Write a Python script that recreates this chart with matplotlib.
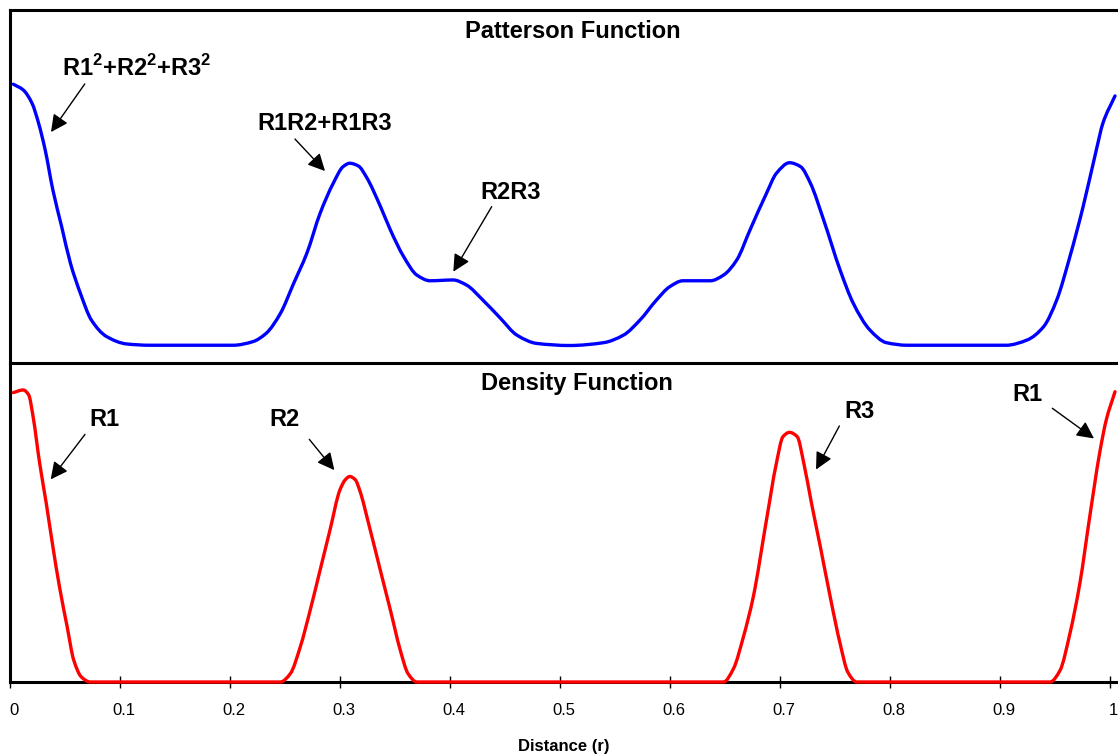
import matplotlib
matplotlib.use("Agg")
import matplotlib.pyplot as plt
import matplotlib.transforms as mtransforms
from matplotlib.path import Path
from matplotlib.patches import PathPatch
import numpy as np

plt.rcParams['font.family'] = ['Liberation Sans', 'DejaVu Sans']
plt.rcParams['mathtext.fontset'] = 'custom'
plt.rcParams['mathtext.rm'] = 'Liberation Sans'
plt.rcParams['mathtext.bf'] = 'Liberation Sans:bold'

# Patterson function (top panel)
patterson_x = [0.003, 0.012, 0.020, 0.026, 0.032, 0.039, 0.047, 0.055, 0.064, 0.074,
               0.088, 0.106, 0.127, 0.203, 0.221, 0.233, 0.246, 0.258, 0.270, 0.282,
               0.294, 0.303, 0.309, 0.317, 0.324, 0.337, 0.346, 0.358, 0.370, 0.382,
               0.403, 0.415, 0.430, 0.446, 0.461, 0.479, 0.509, 0.540, 0.558, 0.573,
               0.588, 0.600, 0.612, 0.637, 0.649, 0.661, 0.673, 0.688, 0.697, 0.709,
               0.719, 0.728, 0.740, 0.755, 0.767, 0.782, 0.797, 0.816, 0.906, 0.925,
               0.940, 0.952, 0.964, 0.976, 0.988, 0.994, 1.005]
patterson_y = [1.005, 0.983, 0.932, 0.855, 0.752, 0.598, 0.457, 0.316, 0.201, 0.098,
               0.034, 0.006, 0.001, 0.001, 0.015, 0.047, 0.124, 0.239, 0.355, 0.508,
               0.624, 0.688, 0.701, 0.690, 0.649, 0.534, 0.444, 0.342, 0.271, 0.249,
               0.252, 0.233, 0.175, 0.105, 0.040, 0.008, 0.000, 0.011, 0.040, 0.098,
               0.175, 0.226, 0.249, 0.249, 0.271, 0.329, 0.444, 0.585, 0.662, 0.703,
               0.688, 0.624, 0.483, 0.290, 0.162, 0.060, 0.011, 0.001, 0.001, 0.021,
               0.072, 0.175, 0.342, 0.534, 0.752, 0.855, 0.960]

# Density function (bottom panel)
density_x = [0.003, 0.012, 0.017, 0.021, 0.027, 0.033, 0.039, 0.045, 0.052, 0.058,
             0.065, 0.073, 0.246, 0.255, 0.264, 0.273, 0.282, 0.291, 0.300, 0.305,
             0.309, 0.314, 0.318, 0.327, 0.337, 0.346, 0.355, 0.362, 0.370, 0.649,
             0.658, 0.667, 0.676, 0.688, 0.697, 0.703, 0.709, 0.716, 0.722, 0.729,
             0.737, 0.746, 0.755, 0.762, 0.770, 0.946, 0.955, 0.964, 0.973, 0.982,
             0.991, 0.997, 1.005]
density_y = [0.997, 1.006, 0.989, 0.914, 0.753, 0.615, 0.466, 0.328, 0.190, 0.075,
             0.017, 0.000, 0.000, 0.029, 0.121, 0.247, 0.385, 0.523, 0.661, 0.697,
             0.708, 0.697, 0.661, 0.533, 0.382, 0.247, 0.109, 0.029, 0.000, 0.000,
             0.046, 0.155, 0.293, 0.558, 0.753, 0.845, 0.860, 0.845, 0.753, 0.615,
             0.466, 0.293, 0.132, 0.034, 0.000, 0.000, 0.040, 0.167, 0.339, 0.569,
             0.788, 0.902, 1.000]

tick_values = [0, 0.1, 0.2, 0.3, 0.4, 0.5, 0.6, 0.7, 0.8, 0.9, 1.0]
tick_labels = ['0', '0.1', '0.2', '0.3', '0.4', '0.5', '0.6', '0.7', '0.8', '0.9', '1']


def smooth_path(xs, ys):
    """Smoothed (monotone cubic Bezier) path through the given points."""
    x = np.asarray(xs, float)
    y = np.asarray(ys, float)
    h = np.diff(x)
    d = np.diff(y) / h
    n = len(x)
    m = np.zeros(n)
    m[0], m[-1] = d[0], d[-1]
    for k in range(1, n - 1):
        if d[k - 1] * d[k] > 0:
            w1 = 2 * h[k] + h[k - 1]
            w2 = h[k] + 2 * h[k - 1]
            m[k] = (w1 + w2) / (w1 / d[k - 1] + w2 / d[k])
    verts = [(x[0], y[0])]
    codes = [Path.MOVETO]
    for k in range(n - 1):
        verts += [(x[k] + h[k] / 3, y[k] + m[k] * h[k] / 3),
                  (x[k + 1] - h[k] / 3, y[k + 1] - m[k + 1] * h[k] / 3),
                  (x[k + 1], y[k + 1])]
        codes += [Path.CURVE4] * 3
    return Path(verts, codes)


W, H = 1118, 754
fig = plt.figure(figsize=(W / 100, H / 100), dpi=100)
left = 10 / W
ax_top = fig.add_axes([left, 1 - 363 / H, 1 - left, 353 / H])
ax_bot = fig.add_axes([left, 1 - 682 / H, 1 - left, 319 / H])
ax_bot.patch.set_visible(False)

xmax = (W - 10) / 1099.5
for ax in (ax_top, ax_bot):
    ax.set_xlim(0, xmax)
    ax.spines['right'].set_visible(False)
    for s in ('left', 'top', 'bottom'):
        ax.spines[s].set_linewidth(2.2)
    ax.set_yticks([])

ax_top.set_ylim(-17.5 / 260, 335.5 / 260)
ax_bot.set_ylim(0, 318.7 / 290)
ax_bot.spines['top'].set_visible(False)
ax_top.set_xticks([])

ax_top.add_patch(PathPatch(smooth_path(patterson_x, patterson_y), fill=False,
                           edgecolor='#0000FF', lw=2.4, capstyle='round',
                           joinstyle='round', clip_on=False))
ax_bot.add_patch(PathPatch(smooth_path(density_x, density_y), fill=False,
                           edgecolor='#FF0000', lw=2.4, capstyle='round',
                           joinstyle='round', clip_on=False, zorder=5))

ax_bot.set_xticks(tick_values)
ax_bot.set_xticklabels(tick_labels, fontsize=12)
ax_bot.tick_params(axis='x', direction='inout', length=8, width=1, pad=11, colors='black')
shift = mtransforms.ScaledTranslation(4 / 100, 0, fig.dpi_scale_trans)
for lbl in ax_bot.get_xticklabels():
    lbl.set_transform(lbl.get_transform() + shift)
ax_bot.set_xlabel('Distance (r)', fontsize=12, fontweight='bold', labelpad=15)

ax_top.text(0.512, 1.2096, 'Patterson Function', ha='center', va='center',
            fontsize=17, fontweight='bold')
ax_bot.text(0.5157, 1.030, 'Density Function', ha='center', va='center',
            fontsize=17, fontweight='bold')

arrow = dict(arrowstyle='-|>', lw=1, color='black', mutation_scale=26,
             shrinkA=0, shrinkB=0)

top_notes = [
    ('R1$^{\\mathbf{2}}$+R2$^{\\mathbf{2}}$+R3$^{\\mathbf{2}}$', (0.1155, 1.067), (0.068, 1.006), (0.0373, 0.821)),
    ('R1R2+R1R3', (0.2865, 0.852), (0.2592, 0.794), (0.2865, 0.671)),
    ('R2R3', (0.4557, 0.590), (0.4381, 0.534), (0.4032, 0.284)),
]
bot_notes = [
    ('R1', (0.0859, 0.904), (0.0682, 0.853), (0.0370, 0.698)),
    ('R2', (0.2501, 0.904), (0.2722, 0.836), (0.2950, 0.730)),
    ('R3', (0.7726, 0.933), (0.7543, 0.882), (0.7331, 0.732)),
    ('R1', (0.9250, 0.992), (0.9480, 0.943), (0.9859, 0.839)),
]
for ax, notes in ((ax_top, top_notes), (ax_bot, bot_notes)):
    for label, tpos, start, tip in notes:
        ax.text(tpos[0], tpos[1], label, ha='center', va='center', fontsize=17,
                fontweight='bold')
        ax.annotate('', xy=tip, xytext=start, arrowprops=arrow)

fig.savefig('out.png', dpi=100)
